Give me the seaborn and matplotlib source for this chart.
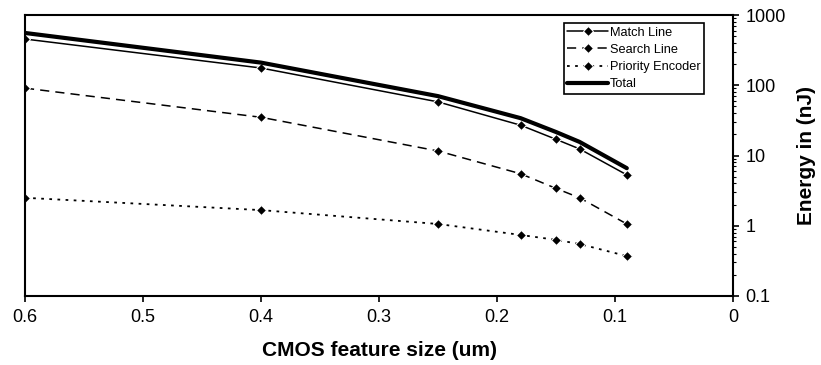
import numpy as np
import pandas as pd
import matplotlib
matplotlib.use('Agg')
import matplotlib.pyplot as plt
import seaborn as sns
from matplotlib.ticker import LogLocator, FixedLocator, NullFormatter

# feature size (um) and energy per component (nJ)
feature_size = [0.6, 0.4, 0.25, 0.18, 0.15, 0.13, 0.09]
match_line = [455, 176, 58, 27, 17, 12.4, 5.3]
search_line = [91, 35, 11.6, 5.5, 3.4, 2.5, 1.06]
priority_encoder = [2.5, 1.67, 1.06, 0.74, 0.63, 0.55, 0.37]
total = [555, 210, 70, 34, 21.6, 15.6, 6.6]

x_ticks = [0.6, 0.5, 0.4, 0.3, 0.2, 0.1, 0]
x_tick_labels = ['0.6', '0.5', '0.4', '0.3', '0.2', '0.1', '0']
y_ticks = [0.1, 1, 10, 100, 1000]
y_tick_labels = ['0.1', '1', '10', '100', '1000']

sns.set_style('ticks')
plt.rcParams['font.family'] = ['Liberation Sans', 'DejaVu Sans']
plt.rcParams['text.color'] = 'black'
plt.rcParams['xtick.color'] = 'black'
plt.rcParams['ytick.color'] = 'black'
plt.rcParams['axes.labelcolor'] = 'black'

series = {
    'Match Line': match_line,
    'Search Line': search_line,
    'Priority Encoder': priority_encoder,
    'Total': total,
}
df = pd.concat([pd.DataFrame({'size': feature_size, 'energy': v, 'name': k})
                for k, v in series.items()])

styles = {
    'Match Line': dict(linestyle='-', marker='D', lw=1.1),
    'Search Line': dict(linestyle=(0, (6, 4)), marker='D', lw=1.1),
    'Priority Encoder': dict(linestyle=(0, (1.5, 3)), marker='D', lw=1.3),
    'Total': dict(linestyle='-', marker=None, lw=3),
}

fig = plt.figure(figsize=(8.21, 3.65), dpi=100)
ax = fig.add_axes([25 / 821, 1 - 296 / 365, (733 - 25) / 821, (296 - 15) / 365])

for name in series:
    st = styles[name]
    sns.lineplot(data=df[df['name'] == name], x='size', y='energy', ax=ax,
                 color='black', linestyle=st['linestyle'], marker=st['marker'],
                 markersize=5, linewidth=st['lw'], label=name, sort=False)

ax.set_yscale('log')
ax.set_xlim(0.6, 0)
ax.set_ylim(0.1, 1000)
ax.yaxis.tick_right()
ax.yaxis.set_label_position('right')
ax.yaxis.set_major_locator(FixedLocator(y_ticks))
ax.set_yticklabels(y_tick_labels)
ax.yaxis.set_minor_locator(LogLocator(base=10, subs=np.arange(2, 10)))
ax.yaxis.set_minor_formatter(NullFormatter())
ax.set_xticks(x_ticks)
ax.set_xticklabels(x_tick_labels)

ax.tick_params(axis='both', which='major', labelsize=13, length=4, width=1.2, pad=5)
ax.tick_params(axis='y', which='minor', length=2.5, width=0.8)
ax.tick_params(axis='y', which='both', left=False, right=True)
for sp in ax.spines.values():
    sp.set_visible(True)
    sp.set_linewidth(1.5)
    sp.set_color('black')

ax.set_xlabel('CMOS feature size (um)', fontsize=15, fontweight='bold', labelpad=11)
ax.set_ylabel('Energy in (nJ)', fontsize=15, fontweight='bold', labelpad=8)

leg = ax.legend(loc='upper right', bbox_to_anchor=(704 / 821, 1 - 23 / 365),
                bbox_transform=fig.transFigure, borderaxespad=0,
                fontsize=9.2, frameon=True, fancybox=False,
                edgecolor='black', framealpha=1, borderpad=0.3, handlelength=3.2,
                handletextpad=0.1, labelspacing=0.4)
leg.get_frame().set_linewidth(1.2)

fig.savefig('out.png', dpi=100)
